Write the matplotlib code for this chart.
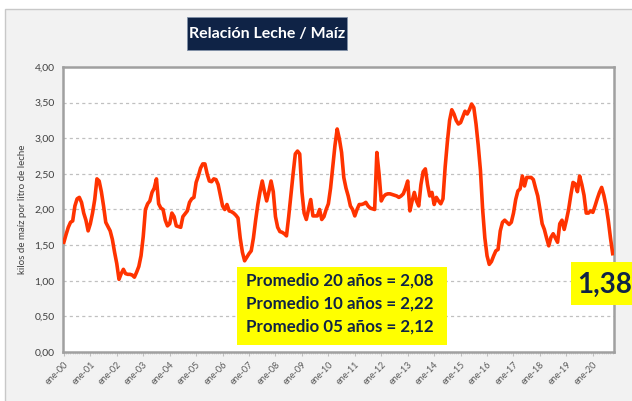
import numpy as np
import matplotlib.pyplot as plt
from matplotlib.patches import Rectangle

# relacion leche / maiz, mensual desde ene-2000
y2000 = [1.54, 1.65, 1.75, 1.82, 1.84, 2.05, 2.15, 2.17, 2.10, 1.95, 1.85, 1.70]
y2001 = [1.80, 1.95, 2.14, 2.43, 2.40, 2.25, 2.05, 1.82, 1.76, 1.70, 1.58, 1.40]
y2002 = [1.24, 1.02, 1.10, 1.16, 1.10, 1.09, 1.09, 1.08, 1.05, 1.12, 1.20, 1.35]
y2003 = [1.62, 2.00, 2.08, 2.12, 2.24, 2.30, 2.43, 2.08, 2.02, 2.00, 1.85, 1.77]
y2004 = [1.80, 1.95, 1.90, 1.77, 1.76, 1.75, 1.90, 1.94, 1.98, 2.10, 2.15, 2.17]
y2005 = [2.38, 2.47, 2.58, 2.64, 2.64, 2.50, 2.40, 2.39, 2.43, 2.42, 2.35, 2.20]
y2006 = [2.05, 2.00, 2.07, 1.98, 1.97, 1.95, 1.92, 1.88, 1.60, 1.40, 1.28, 1.33]
y2007 = [1.38, 1.42, 1.60, 1.85, 2.07, 2.25, 2.40, 2.25, 2.12, 2.25, 2.40, 2.25]
y2008 = [1.90, 1.75, 1.69, 1.68, 1.66, 1.63, 1.90, 2.20, 2.50, 2.78, 2.82, 2.78]
y2009 = [2.25, 1.95, 1.86, 2.00, 2.14, 1.91, 1.91, 1.91, 2.00, 1.86, 1.90, 2.00]
y2010 = [2.08, 2.30, 2.60, 2.90, 3.13, 2.99, 2.80, 2.45, 2.30, 2.19, 2.05, 2.00]
y2011 = [1.91, 2.00, 2.07, 2.07, 2.08, 2.10, 2.05, 2.02, 2.01, 2.00, 2.80, 2.50]
y2012 = [2.12, 2.18, 2.21, 2.22, 2.22, 2.21, 2.20, 2.19, 2.17, 2.19, 2.22, 2.30]
y2013 = [2.40, 1.98, 2.12, 2.24, 2.12, 2.05, 2.35, 2.53, 2.57, 2.35, 2.19, 2.24]
y2014 = [2.07, 2.17, 2.12, 2.08, 2.15, 2.60, 2.95, 3.25, 3.40, 3.34, 3.25, 3.20]
y2015 = [3.22, 3.30, 3.38, 3.34, 3.40, 3.48, 3.43, 3.20, 2.90, 2.55, 2.00, 1.60]
y2016 = [1.35, 1.23, 1.27, 1.35, 1.42, 1.44, 1.70, 1.82, 1.85, 1.82, 1.79, 1.82]
y2017 = [1.95, 2.14, 2.26, 2.29, 2.47, 2.33, 2.45, 2.45, 2.45, 2.42, 2.30, 2.19]
y2018 = [2.00, 1.80, 1.72, 1.60, 1.49, 1.61, 1.66, 1.60, 1.54, 1.80, 1.85, 1.72]
y2019 = [1.85, 2.00, 2.20, 2.38, 2.36, 2.25, 2.47, 2.35, 2.20, 1.95, 1.95, 1.98]
y2020 = [1.96, 2.05, 2.15, 2.24, 2.31, 2.20, 2.05, 1.85, 1.60, 1.38]

yticks = [0, 0.5, 1.0, 1.5, 2.0, 2.5, 3.0, 3.5, 4.0]
ytick_labels = ['0,00', '0,50', '1,00', '1,50', '2,00', '2,50', '3,00', '3,50', '4,00']
year_labels = ['ene-%02d' % i for i in range(21)]

promedios = ['Promedio 20 años = 2,08', 'Promedio 10 años = 2,22', 'Promedio 05 años = 2,12']
ultimo = '1,38'

serie = np.array(y2000 + y2001 + y2002 + y2003 + y2004 + y2005 + y2006 + y2007 + y2008 + y2009
                 + y2010 + y2011 + y2012 + y2013 + y2014 + y2015 + y2016 + y2017 + y2018
                 + y2019 + y2020)
meses = np.arange(len(serie))

navy = '#0f2346'
font = 'Lato'

fig = plt.figure(figsize=(6.32, 4.01), dpi=100)
fig.patch.set_facecolor('white')
# fondo gris del cuadro
fig.patches.append(Rectangle((5 / 632, -0.05), 1.1, 1 - 9 / 401 + 0.05, transform=fig.transFigure,
                             facecolor='#f2f2f2', edgecolor='#c8c8c8', lw=1.0, zorder=-5))

ax = fig.add_axes([63 / 632, 1 - 352 / 401, (614 - 63) / 632, (352 - 67) / 401])
ax.set_facecolor('white')
ax.plot(meses, serie, color='#ff3300', lw=2.6, solid_joinstyle='round', zorder=3)

ax.set_xlim(-0.4, len(serie) - 0.4)
ax.set_ylim(0, 4)
ax.set_yticks(yticks)
ax.set_yticklabels(ytick_labels, fontsize=7.5, color='#404040', family=font)
ax.set_xticks(np.arange(0, 241, 12))
ax.set_xticklabels(year_labels, rotation=45, ha='right', rotation_mode='anchor',
                   fontsize=6.5, color='#595959', family=font)
ax.set_xticks(meses, minor=True)
ax.tick_params(axis='x', which='major', length=3, color='#bfbfbf', pad=3)
ax.tick_params(axis='x', which='minor', length=1.5, color='#d0d0d0')
ax.tick_params(axis='y', length=0, pad=6)
for v in yticks[1:-1]:
    ax.axhline(v, color='#c0c0c0', lw=0.9, ls=(0, (2.5, 2.5)), zorder=1)
for s in ax.spines.values():
    s.set_color('#a0a0a0')
    s.set_linewidth(1.8)
ax.set_ylabel('kilos de maíz por litro de leche', fontsize=7, color='#404040', family=font,
              labelpad=5)

# titulo
fig.patches.append(Rectangle((187 / 632, 1 - 50 / 401), 160 / 632, 33 / 401, transform=fig.transFigure,
                             facecolor=navy, edgecolor='#8090a8', lw=0.6, zorder=2))
fig.text(267 / 632, 1 - 34 / 401, 'Relación Leche / Maíz', color='white', fontsize=11.5,
         fontweight='bold', family=font, ha='center', va='center')

# cuadro de promedios
fig.patches.append(Rectangle((237 / 632, 1 - 345 / 401), 210 / 632, 78 / 401, transform=fig.transFigure,
                             facecolor='#ffff00', edgecolor='none', zorder=5))
for i, txt in enumerate(promedios):
    fig.text(246 / 632, 1 - (281 + 23 * i) / 401, txt, color=navy, fontsize=12.2,
             fontweight='bold', family=font, ha='left', va='center', zorder=6)

# ultimo valor
fig.patches.append(Rectangle((571 / 632, 1 - 305 / 401), 70 / 632, 43 / 401, transform=fig.transFigure,
                             facecolor='#ffff00', edgecolor='none', zorder=5))
fig.text(577 / 632, 1 - 285 / 401, ultimo, color=navy, fontsize=20, fontweight='bold',
         family=font, ha='left', va='center', zorder=6)

fig.savefig('out.png', dpi=100, facecolor=fig.get_facecolor())
